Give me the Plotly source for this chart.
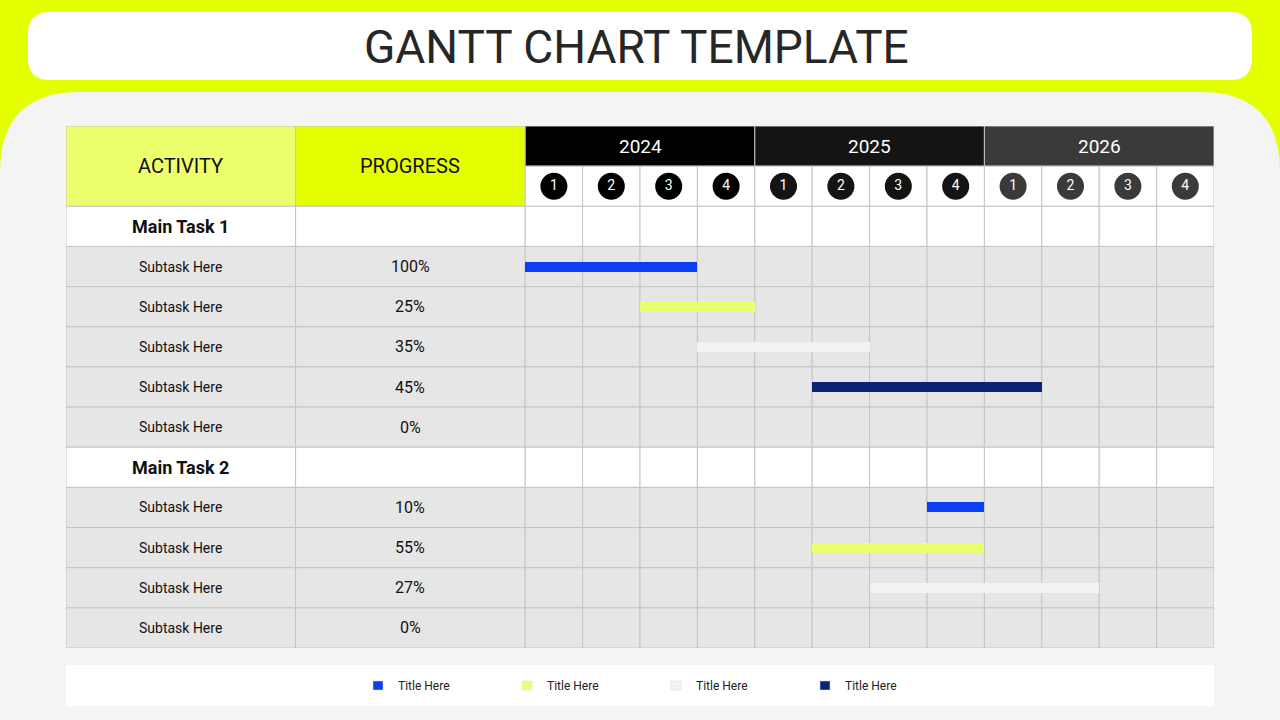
import plotly.graph_objects as go

# data
years = ['2024', '2025', '2026']
year_colors = ['#000000', '#141414', '#3a3a3a']
quarters = ['1', '2', '3', '4']
activities = ['Main Task 1', 'Subtask Here', 'Subtask Here', 'Subtask Here', 'Subtask Here', 'Subtask Here',
              'Main Task 2', 'Subtask Here', 'Subtask Here', 'Subtask Here', 'Subtask Here']
progress = ['', '100%', '25%', '35%', '45%', '0%', '', '10%', '55%', '27%', '0%']
is_main = [True, False, False, False, False, False, True, False, False, False, False]
# bars: row index (into activities), start quarter, end quarter (0 = 2024 Q1 start)
bar_rows = [1, 2, 3, 4, 7, 8, 9]
bar_start = [0, 2, 3, 5, 7, 5, 6]
bar_end = [3, 4, 6, 9, 8, 8, 10]
bar_colors = ['#0a3ff5', '#ecff6e', '#f2f2f2', '#0a2278', '#0a3ff5', '#ecff6e', '#f2f2f2']
legend_labels = ['Title Here', 'Title Here', 'Title Here', 'Title Here']
legend_colors = ['#0a3ff5', '#ecff6e', '#f2f2f2', '#0a2278']

W, H = 1280, 720
L, R, T, B = 66, 1214, 126, 648
FONT = 'Roboto'


def px(x):
    return (x - L) / (R - L)


def py(y):
    return (B - y) / (B - T)


def rounded(x0, y0, x1, y1, r):
    pts = (f'M{px(x0 + r)},{py(y0)} L{px(x1 - r)},{py(y0)} Q{px(x1)},{py(y0)} {px(x1)},{py(y0 + r)} '
           f'L{px(x1)},{py(y1 - r)} Q{px(x1)},{py(y1)} {px(x1 - r)},{py(y1)} '
           f'L{px(x0 + r)},{py(y1)} Q{px(x0)},{py(y1)} {px(x0)},{py(y1 - r)} '
           f'L{px(x0)},{py(y0 + r)} Q{px(x0)},{py(y0)} {px(x0 + r)},{py(y0)} Z')
    return pts


shapes = []
annotations = []
# background panels
shapes.append(dict(type='path', xref='paper', yref='paper', path=rounded(0, 92, 1280, 800, 80),
                   fillcolor='#f4f4f4', line_width=0, layer='below'))
shapes.append(dict(type='path', xref='paper', yref='paper', path=rounded(28, 12, 1252, 80, 22),
                   fillcolor='white', line_width=0, layer='below'))
annotations.append(dict(text='GANTT CHART TEMPLATE', xref='paper', yref='paper', x=px(636), y=py(47),
                        yanchor='middle', showarrow=False, font=dict(family=FONT, size=46, color='#262626')))

# header cells (data coords: x from -8 to 12, y rows 0..13)
grid = '#c4c4c4'
shapes.append(dict(type='rect', x0=-8, x1=-4, y0=0, y1=2, fillcolor='#eeff6e', line=dict(color=grid, width=1), layer='below'))
shapes.append(dict(type='rect', x0=-4, x1=0, y0=0, y1=2, fillcolor='#e4ff00', line=dict(color=grid, width=1), layer='below'))
annotations.append(dict(text='ACTIVITY', x=-6, y=1, showarrow=False, font=dict(family=FONT, size=20, color='#111')))
annotations.append(dict(text='PROGRESS', x=-2, y=1, showarrow=False, font=dict(family=FONT, size=20, color='#111')))
for i, yr in enumerate(years):
    shapes.append(dict(type='rect', x0=4 * i, x1=4 * i + 4, y0=0, y1=1, fillcolor=year_colors[i],
                       line=dict(color=grid, width=1), layer='below'))
    annotations.append(dict(text=yr, x=4 * i + 2, y=0.5, showarrow=False, font=dict(family=FONT, size=19, color='white')))
for q in range(12):
    shapes.append(dict(type='rect', x0=q, x1=q + 1, y0=1, y1=2, fillcolor='white', line=dict(color=grid, width=1), layer='below'))

# body rows
for r, name in enumerate(activities):
    y0 = r + 2
    fill = 'white' if is_main[r] else '#e6e6e6'
    for x0, x1 in [(-8, -4), (-4, 0)] + [(q, q + 1) for q in range(12)]:
        shapes.append(dict(type='rect', x0=x0, x1=x1, y0=y0, y1=y0 + 1, fillcolor=fill,
                           line=dict(color=grid, width=1), layer='below'))
    annotations.append(dict(text=f'<b>{name}</b>' if is_main[r] else name, x=-6, y=y0 + 0.5, showarrow=False,
                            font=dict(family=FONT, size=18 if is_main[r] else 14, color='#111')))
    if progress[r]:
        annotations.append(dict(text=progress[r], x=-2, y=y0 + 0.5, showarrow=False,
                                font=dict(family=FONT, size=16, color='#111')))

fig = go.Figure()
# quarter circles
qx = [q + 0.5 for q in range(12)]
fig.add_trace(go.Scatter(x=qx, y=[1.5] * 12, mode='markers+text', text=quarters * 3,
                         marker=dict(size=27, color=[year_colors[q // 4] for q in range(12)]),
                         textfont=dict(family=FONT, size=14, color='white'), hoverinfo='skip'))
# gantt bars
fig.add_trace(go.Bar(y=[r + 2.5 for r in bar_rows], x=[e - s for s, e in zip(bar_start, bar_end)], base=bar_start,
                     orientation='h', width=0.25, marker=dict(color=bar_colors, line_width=0)))

# legend strip
shapes.append(dict(type='rect', xref='paper', yref='paper', x0=px(66), x1=px(1214), y0=py(665), y1=py(706),
                   fillcolor='white', line_width=0))
for i, (lab, col) in enumerate(zip(legend_labels, legend_colors)):
    cx = 378 + 149 * i
    shapes.append(dict(type='rect', xref='paper', yref='paper', x0=px(cx - 5), x1=px(cx + 5), y0=py(681), y1=py(690),
                       fillcolor=col, line=dict(color='#dddddd', width=0.5)))
    annotations.append(dict(text=lab, xref='paper', yref='paper', x=px(cx + 18), y=py(686), xanchor='left',
                            yanchor='middle', showarrow=False, font=dict(family=FONT, size=12, color='#222')))

fig.update_layout(
    width=W, height=H, margin=dict(l=L, r=W - R, t=T, b=H - B),
    paper_bgcolor='#e4ff00', plot_bgcolor='rgba(0,0,0,0)', showlegend=False,
    xaxis=dict(range=[-8, 12], visible=False, fixedrange=True),
    yaxis=dict(range=[13, 0], visible=False, fixedrange=True),
    shapes=shapes, annotations=annotations, bargap=0,
)
fig.write_html('out.html', config={'displayModeBar': False},
               post_script="document.body.style.margin='0';document.body.style.overflow='hidden';")
